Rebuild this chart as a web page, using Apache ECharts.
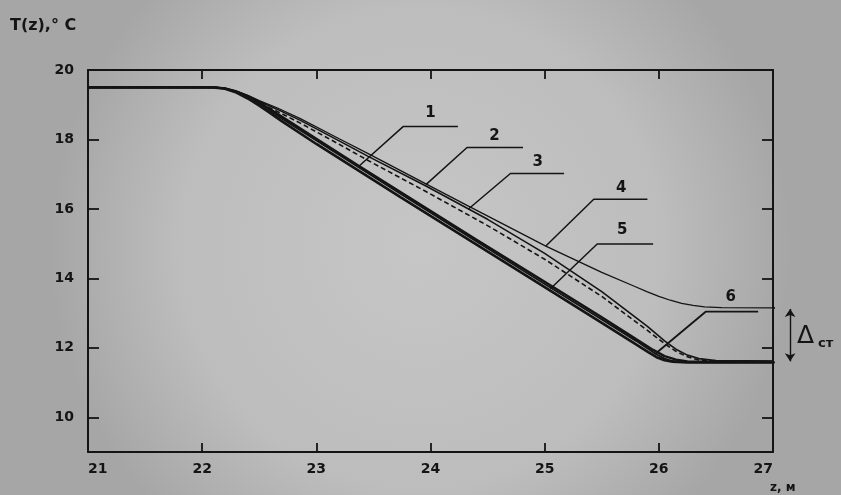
<!DOCTYPE html>
<html>
<head>
<meta charset="utf-8">
<script src="https://cdn.jsdelivr.net/npm/echarts@6/dist/echarts.min.js"></script>
<style>
html,body{margin:0;padding:0;background:#bcbcbc;}
#c{width:841px;height:495px;}
</style>
</head>
<body>
<div id="c"></div>
<script>
// ---- data (z in m, T in °C) ----
const xTicks = [21, 22, 23, 24, 25, 26, 27];
const yTicks = [10, 12, 14, 16, 18, 20];
const innerXTicks = [22, 23, 24, 25, 26];
const innerYTicks = [10, 12, 14, 16, 18];

const curve1 = [[21,19.5],[22.1,19.5],[22.2,19.47],[22.3,19.38],[22.4,19.24],[22.5,19.06],[22.6,18.86],[22.7,18.65],[23.0,18.02],[23.37,17.24],[23.74,16.48],[24.4,15.12],[25.0,13.9],[25.49,12.9],[25.8,12.25],[25.95,11.94],[26.05,11.76],[26.15,11.66],[26.25,11.61],[26.4,11.6],[27,11.6]];
const curve2 = [[21,19.5],[22.1,19.5],[22.2,19.46],[22.3,19.37],[22.4,19.23],[22.5,19.06],[22.65,18.82],[22.86,18.47],[23.2,17.86],[23.45,17.4],[23.96,16.5],[24.5,15.52],[25.0,14.55],[25.5,13.48],[25.9,12.5],[26.05,12.12],[26.15,11.9],[26.25,11.74],[26.35,11.65],[26.5,11.61],[27,11.6]];
const curve3 = [[21,19.5],[22.1,19.5],[22.2,19.47],[22.3,19.39],[22.4,19.26],[22.5,19.1],[22.65,18.88],[22.86,18.55],[23.2,17.96],[23.45,17.52],[23.96,16.66],[24.5,15.7],[25.0,14.72],[25.5,13.62],[25.9,12.62],[26.05,12.2],[26.15,11.96],[26.25,11.79],[26.35,11.69],[26.5,11.63],[27,11.62]];
const curve4 = [[21,19.5],[22.1,19.5],[22.2,19.47],[22.3,19.39],[22.4,19.27],[22.5,19.12],[22.65,18.92],[22.86,18.6],[23.2,18.02],[23.45,17.6],[23.96,16.72],[24.32,16.1],[25.01,14.93],[25.5,14.17],[25.78,13.78],[25.9,13.61],[26.0,13.48],[26.1,13.37],[26.2,13.28],[26.3,13.22],[26.4,13.18],[26.55,13.16],[27,13.15]];
const curve5 = [[21,19.5],[22.1,19.5],[22.2,19.46],[22.3,19.35],[22.4,19.18],[22.5,18.97],[22.6,18.75],[22.7,18.52],[23.0,17.87],[23.74,16.33],[24.4,14.98],[25.0,13.75],[25.49,12.74],[25.8,12.1],[25.9,11.89],[25.98,11.73],[26.05,11.64],[26.12,11.6],[26.25,11.58],[27,11.58]];
const curve6 = [[21,19.5],[22.1,19.5],[22.2,19.47],[22.3,19.37],[22.4,19.22],[22.5,19.02],[22.6,18.81],[22.7,18.6],[23.0,17.97],[23.74,16.43],[24.4,15.07],[25.0,13.84],[25.49,12.84],[25.8,12.2],[25.97,11.83],[26.05,11.69],[26.12,11.62],[26.22,11.59],[26.35,11.58],[27,11.58]];

// leader lines: [tip, elbow, end] and label anchor
const curveNames = ['1','2','3','4','5','6'];
const leaders = [
  [[23.37,17.22],[23.76,18.37],[24.24,18.37]],
  [[23.96,16.70],[24.32,17.77],[24.81,17.77]],
  [[24.33,15.99],[24.70,17.02],[25.17,17.02]],
  [[25.01,14.93],[25.43,16.28],[25.90,16.28]],
  [[25.05,13.70],[25.46,14.99],[25.95,14.99]],
  [[25.97,11.83],[26.41,13.04],[26.87,13.04]]
];
const labelPos = [[24.0,18.77],[24.56,18.10],[24.94,17.36],[25.67,16.61],[25.68,15.38],[26.63,13.46]];

// Δст dimension
const deltaTop = 13.15, deltaBottom = 11.58;
const dimX0 = 27, dimX1 = 27.2, arrowX = 27.15, deltaLabelX = 27.21;

const chart = echarts.init(document.getElementById('c'));
const ink = '#141414';
const font = 'DejaVu Sans';

const curveSeries = [
  {d: curve1, w: 2.4, t: 'solid'},
  {d: curve2, w: 1.6, t: [5,3]},
  {d: curve3, w: 1.6, t: 'solid'},
  {d: curve4, w: 1.3, t: 'solid'},
  {d: curve5, w: 2.6, t: 'solid'},
  {d: curve6, w: 1.8, t: 'solid'}
].map((c, i) => ({
  type: 'line', name: curveNames[i], data: c.d, symbol: 'none',
  smooth: false, silent: true,
  lineStyle: {color: ink, width: c.w, type: c.t}
}));

const leaderSeries = leaders.map((l, i) => ({
  type: 'line', data: l, symbol: 'none', silent: true,
  lineStyle: {color: ink, width: i === 5 ? 1.8 : 1.5}
}));

const dimSeries = [
  {type: 'line', data: [[dimX0, deltaTop],[dimX1, deltaTop]], clip: false, symbol: 'none', silent: true, lineStyle: {color: ink, width: 1.6}},
  {type: 'line', data: [[dimX0, deltaBottom],[dimX1, deltaBottom]], clip: false, symbol: 'none', silent: true, lineStyle: {color: ink, width: 1.6}},
  {type: 'lines', coordinateSystem: 'cartesian2d', clip: false, silent: true,
   symbol: ['arrow','arrow'], symbolSize: 8,
   lineStyle: {color: ink, width: 1.4, opacity: 1},
   data: [{coords: [[arrowX, deltaTop - 0.03],[arrowX, deltaBottom + 0.03]]}]}
];

const axisLineStyle = {color: ink, width: 2};

chart.setOption({
  animation: false,
  backgroundColor: {type: 'radial', x: 0.5, y: 0.5, r: 0.75,
    colorStops: [{offset: 0, color: '#c6c6c6'}, {offset: 0.65, color: '#bdbdbd'}, {offset: 1, color: '#a6a6a6'}]},
  grid: {left: 88, right: 68, top: 70, bottom: 43},
  xAxis: [
    {type: 'value', min: 21, max: 27, interval: 1, position: 'bottom',
     axisLine: {show: true, lineStyle: axisLineStyle},
     axisTick: {show: true, inside: true, length: 9, customValues: innerXTicks, lineStyle: {color: ink, width: 1.8}},
     axisLabel: {show: true, customValues: xTicks, margin: 10, color: ink, fontFamily: font, fontWeight: 'bold', fontSize: 14,
                 alignMinLabel: 'left', alignMaxLabel: 'right'},
     splitLine: {show: false}},
    {type: 'value', min: 21, max: 27, interval: 1, position: 'top',
     axisLine: {show: true, lineStyle: axisLineStyle},
     axisTick: {show: true, inside: true, length: 9, customValues: innerXTicks, lineStyle: {color: ink, width: 1.8}},
     axisLabel: {show: false}, splitLine: {show: false}}
  ],
  yAxis: [
    {type: 'value', min: 9, max: 20, position: 'left',
     axisLine: {show: true, lineStyle: axisLineStyle},
     axisTick: {show: true, inside: true, length: 11, customValues: innerYTicks, lineStyle: {color: ink, width: 1.8}},
     axisLabel: {show: true, customValues: yTicks, margin: 14, color: ink, fontFamily: font, fontWeight: 'bold', fontSize: 14},
     splitLine: {show: false}},
    {type: 'value', min: 9, max: 20, position: 'right',
     axisLine: {show: true, lineStyle: axisLineStyle},
     axisTick: {show: true, inside: true, length: 11, customValues: innerYTicks, lineStyle: {color: ink, width: 1.8}},
     axisLabel: {show: false}, splitLine: {show: false}}
  ],
  series: [...curveSeries, ...leaderSeries, ...dimSeries]
});

// text annotations placed through the chart's own scales
const g = [
  {type: 'text', left: 10, top: 18, style: {text: 'T(z),° C', fill: ink, font: 'bold 16px "DejaVu Sans"'}},
  {type: 'text', left: 770, top: 482, style: {text: 'z, м', fill: ink, font: 'bold 12px "DejaVu Sans"'}}
];
labelPos.forEach((p, i) => {
  const px = chart.convertToPixel({gridIndex: 0}, p);
  g.push({type: 'text', x: px[0], y: px[1],
    style: {text: curveNames[i], fill: ink, font: 'bold 15px "DejaVu Sans"', align: 'center', verticalAlign: 'middle'}});
});
const dp = chart.convertToPixel({gridIndex: 0}, [deltaLabelX, (deltaTop + deltaBottom) / 2]);
g.push({type: 'text', x: dp[0], y: dp[1] + 1,
  style: {text: 'Δ', fill: ink, font: '25px "DejaVu Sans"', align: 'left', verticalAlign: 'middle'}});
g.push({type: 'text', x: dp[0] + 21, y: dp[1] + 8,
  style: {text: 'ст', fill: ink, font: 'bold 13px "DejaVu Sans"', align: 'left', verticalAlign: 'middle'}});
chart.setOption({graphic: g});
</script>
</body>
</html>
